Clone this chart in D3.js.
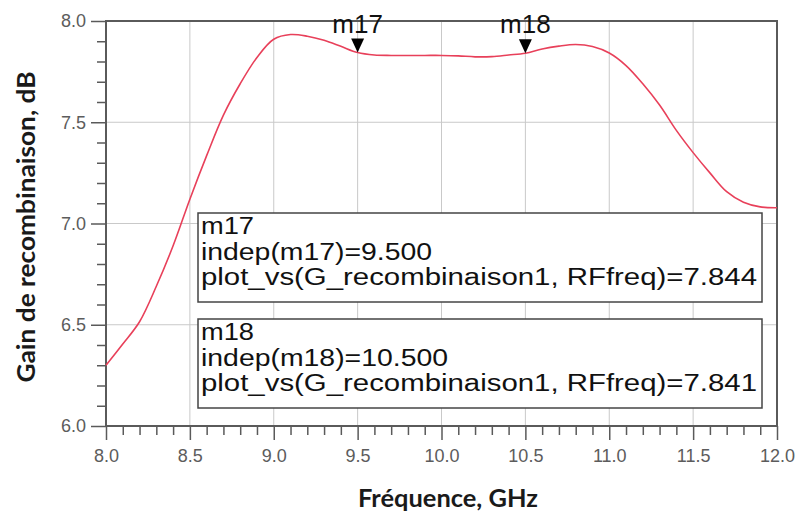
<!DOCTYPE html>
<html><head><meta charset="utf-8">
<script src="https://cdn.jsdelivr.net/npm/d3@7"></script>
<style>body{margin:0;background:#fff}svg{display:block}</style>
</head><body>
<svg id="c" width="797" height="514"></svg>
<script>
// ---- data ----
const freq = [8.0,8.1,8.2,8.3,8.4,8.5,8.6,8.7,8.8,8.9,9.0,9.1,9.2,9.3,9.4,9.5,9.6,9.7,9.8,9.9,10.0,10.1,10.2,10.3,10.4,10.5,10.6,10.7,10.8,10.9,11.0,11.1,11.2,11.3,11.4,11.5,11.6,11.7,11.8,11.9,12.0];
const gain = [6.30,6.405,6.515,6.69,6.89,7.12,7.335,7.535,7.69,7.82,7.91,7.933,7.925,7.905,7.875,7.844,7.832,7.830,7.830,7.830,7.830,7.828,7.823,7.824,7.832,7.841,7.862,7.876,7.884,7.874,7.842,7.78,7.69,7.585,7.46,7.35,7.25,7.157,7.105,7.082,7.078];
const xTicks = [8.0,8.5,9.0,9.5,10.0,10.5,11.0,11.5,12.0];
const yTicks = [6.0,6.5,7.0,7.5,8.0];
const markerNames = ["m17","m18"];
const markerFreq = [9.5,10.5];
const markerGain = [7.844,7.841];
const seriesName = "plot_vs(G_recombinaison1, RFfreq)";
const xTitle = "Fréquence, GHz";
const yTitle = "Gain de recombinaison, dB";

// ---- layout ----
const L = 106, R = 777, T = 21, B = 426;
const svg = d3.select("#c");
const x = d3.scaleLinear().domain([8,12]).range([L,R]);
const y = d3.scaleLinear().domain([6,8]).range([B,T]);
const axisCol = "#5a5a5a", gridCol = "#c9c9c9", labCol = "#5c5c5c";

// grid
svg.append("g").selectAll("line").data(xTicks.slice(1,-1)).join("line")
  .attr("x1",d=>x(d)).attr("x2",d=>x(d)).attr("y1",T).attr("y2",B)
  .attr("stroke",gridCol).attr("stroke-width",1);
svg.append("g").selectAll("line").data(yTicks.slice(1,-1)).join("line")
  .attr("y1",d=>y(d)).attr("y2",d=>y(d)).attr("x1",L).attr("x2",R)
  .attr("stroke",gridCol).attr("stroke-width",1);

// minor ticks
const xMinor = d3.range(8,12.0001,0.1).filter(v=>Math.abs(v*2-Math.round(v*2))>1e-6);
const yMinor = d3.range(6,8.0001,0.1).filter(v=>Math.abs(v*2-Math.round(v*2))>1e-6);
const gxm = svg.append("g").attr("transform",`translate(0,${B})`)
  .call(d3.axisBottom(x).tickValues(xMinor).tickSize(9).tickFormat(""));
const gym = svg.append("g").attr("transform",`translate(${L},0)`)
  .call(d3.axisLeft(y).tickValues(yMinor).tickSize(9).tickFormat(""));
[gxm,gym].forEach(g=>{g.select(".domain").remove();g.selectAll("line").attr("stroke",axisCol).attr("stroke-width",1.5);});

// major axes
const gx = svg.append("g").attr("transform",`translate(0,${B})`)
  .call(d3.axisBottom(x).tickValues(xTicks).tickSize(14).tickPadding(9).tickFormat(d3.format(".1f")));
const gy = svg.append("g").attr("transform",`translate(${L},0)`)
  .call(d3.axisLeft(y).tickValues(yTicks).tickSize(15).tickPadding(5).tickFormat(d3.format(".1f")));
[gx,gy].forEach(g=>{
  g.select(".domain").remove();
  g.selectAll("line").attr("stroke",axisCol).attr("stroke-width",1.5);
  g.selectAll("text").attr("fill",labCol).style("font-family","'Liberation Sans',Arial,sans-serif").style("font-size","18px");
});

// frame
svg.append("rect").attr("x",L).attr("y",T).attr("width",R-L).attr("height",B-T)
  .attr("fill","none").attr("stroke",axisCol).attr("stroke-width",2);

// curve
const pts = freq.map((f,i)=>[f,gain[i]]);
svg.append("path").datum(pts)
  .attr("d",d3.line().x(d=>x(d[0])).y(d=>y(d[1])).curve(d3.curveCatmullRom.alpha(0.5)))
  .attr("fill","none").attr("stroke","#e8405a").attr("stroke-width",1.6);

// markers
markerNames.forEach((n,i)=>{
  const px = x(markerFreq[i]), py = y(markerGain[i]);
  svg.append("path").attr("d",`M${px},${py}L${px-6.5},${py-14}L${px+6.5},${py-14}Z`).attr("fill","#000");
  svg.append("text").attr("x",px).attr("y",33).attr("text-anchor","middle")
    .style("font-family","'Liberation Sans',Arial,sans-serif").style("font-size","26px")
    .attr("fill","#111").text(n);
});

// marker readout boxes
const boxX = 198, boxW = 564, boxH = 89, boxTop = [213,319];
markerNames.forEach((n,i)=>{
  const g = svg.append("g");
  g.append("rect").attr("x",boxX).attr("y",boxTop[i]).attr("width",boxW).attr("height",boxH)
    .attr("fill","#fff").attr("stroke","#444").attr("stroke-width",1.5);
  const lines = [n, `indep(${n})=${d3.format(".3f")(markerFreq[i])}`, `${seriesName}=${d3.format(".3f")(markerGain[i])}`];
  const lens = [53, i===0?231:247, 556];
  lines.forEach((t,j)=>{
    g.append("text").attr("x",boxX+3).attr("y",boxTop[i]+21+j*25.5)
      .style("font-family","'Liberation Sans',Arial,sans-serif").style("font-size","23px")
      .attr("fill","#111").attr("textLength",lens[j]).attr("lengthAdjust","spacingAndGlyphs").text(t);
  });
});

// titles
svg.append("text").attr("x",448).attr("y",507).attr("text-anchor","middle")
  .style("font-family","Lato,'Open Sans',sans-serif").style("font-weight","bold").style("font-size","24px")
  .attr("fill","#1a1a1a").attr("textLength",180).attr("lengthAdjust","spacingAndGlyphs").text(xTitle);
svg.append("text").attr("transform","translate(35,227) rotate(-90)").attr("text-anchor","middle")
  .style("font-family","Lato,'Open Sans',sans-serif").style("font-weight","bold").style("font-size","24px")
  .attr("fill","#1a1a1a").attr("textLength",311).attr("lengthAdjust","spacingAndGlyphs").text(yTitle);
</script>
</body></html>
